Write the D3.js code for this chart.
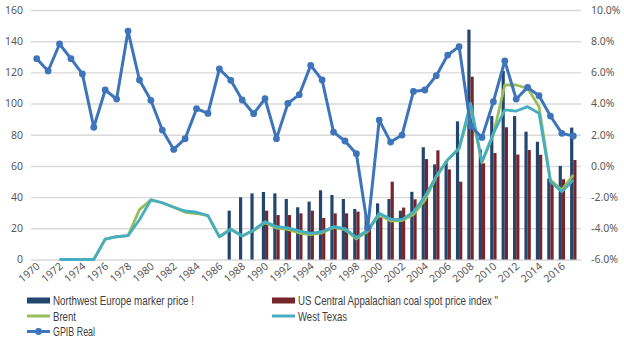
<!DOCTYPE html>
<html>
<head>
<meta charset="utf-8">
<script src="https://cdn.jsdelivr.net/npm/d3@7"></script>
<style>
  html, body { margin: 0; padding: 0; background: #fff; }
  svg { display: block; }
  .tick-label { font-family: "Noto Sans", "Open Sans", sans-serif; font-size: 10.5px; fill: #595959; }
  .legend-label { font-family: "Liberation Sans", "DejaVu Sans", sans-serif; font-size: 13px; fill: #404040; }
</style>
</head>
<body>
<div id="chart"></div>
<script>
const years = d3.range(1970, 2018);

// coal prices, left axis (bars)
const nweMarker = [
  null, null, null, null, null, null, null, null, null, null,
  null, null, null, null, null, null, null, 31.3, 39.9, 42.4,
  43.3, 42.4, 38.8, 33.5, 37.1, 44.4, 41.4, 38.8, 32.4, 28.0,
  36.0, 38.8, 31.3, 43.4, 72.0, 61.0, 63.0, 88.6, 147.4, 70.5,
  92.0, 121.0, 92.0, 82.0, 75.5, 52.0, 60.0, 84.6
];
const cappIndex = [
  null, null, null, null, null, null, null, null, null, null,
  null, null, null, null, null, null, null, null, null, null,
  31.3, 28.5, 28.5, 29.6, 31.3, 26.6, 29.6, 29.6, 30.7, 20.0,
  27.0, 49.9, 33.3, 38.6, 64.4, 70.0, 57.8, 49.9, 117.2, 61.7,
  68.3, 84.8, 67.3, 70.2, 67.2, 49.5, 51.5, 63.8
];

// crude oil, left axis (lines)
const brent = [
  null, null, 0, 0, 0, 0, 13.1, 14.6, 15.3, 32.0,
  38.2, 36.4, 33.5, 30.3, 29.5, 28.1, 14.6, 19.4, 15.1, 18.6,
  23.6, 20.2, 19.3, 17.0, 15.9, 17.1, 20.6, 19.2, 13.2, 18.0,
  28.8, 24.6, 25.0, 28.8, 38.0, 53.0, 64.0, 71.0, 97.0, 62.0,
  80.0, 111.9, 111.9, 109.8, 98.0, 51.0, 44.6, 54.2
];
const westTexas = [
  null, null, 0, 0, 0, 0, 13.1, 14.6, 15.3, 25.5,
  38.2, 36.4, 33.5, 31.1, 30.3, 28.1, 14.6, 19.4, 15.1, 18.9,
  24.3, 21.0, 20.3, 18.3, 16.8, 17.8, 21.0, 19.8, 14.0, 18.9,
  29.6, 25.9, 25.6, 30.5, 40.3, 53.5, 64.0, 71.5, 100.2, 62.7,
  80.9, 95.9, 95.2, 98.0, 93.8, 49.9, 43.5, 51.0
];

// GPIB real, right axis (%)
const gpibReal = [
  6.88, 6.09, 7.82, 6.88, 5.90, 2.48, 4.87, 4.29, 8.65, 5.51,
  4.21, 2.30, 1.06, 1.75, 3.67, 3.37, 6.22, 5.49, 4.23, 3.35,
  4.31, 1.75, 4.01, 4.57, 6.45, 5.51, 2.17, 1.60, 0.78, -3.96,
  2.94, 1.53, 1.98, 4.78, 4.87, 5.79, 7.11, 7.65, 2.56, 1.83,
  4.12, 6.73, 4.29, 5.04, 4.50, 3.20, 2.09, 1.92
];

const leftTicks = [0, 20, 40, 60, 80, 100, 120, 140, 160];
const rightTicks = [-6, -4, -2, 0, 2, 4, 6, 8, 10];
const yearLabels = years.filter(y => y % 2 === 0);

const barSeries = [
  { name: 'Northwest Europe marker price !', values: nweMarker, color: '#23466F', textWidth: 141 },
  { name: 'US Central Appalachian coal spot price index "', values: cappIndex, color: '#76262B', textWidth: 200 }
];
const lineSeries = [
  { name: 'Brent', values: brent, color: '#97BE5A', textWidth: 23 },
  { name: 'West Texas', values: westTexas, color: '#45AEC0', textWidth: 49 }
];
const gpibColor = '#3D74BA';

const width = 624, height = 342;
const plot = { left: 31, right: 579, top: 10, bottom: 259.5 };

const svg = d3.select('#chart').append('svg')
  .attr('width', width)
  .attr('height', height);

const x0 = d3.scaleBand()
  .domain(years)
  .range([plot.left, plot.right])
  .paddingInner(0.44)
  .paddingOuter(0.22);
const x1 = d3.scaleBand()
  .domain([0, 1])
  .range([0, x0.bandwidth()]);
const xc = y => x0(y) + x0.bandwidth() / 2;

const yLeft = d3.scaleLinear().domain([0, 160]).range([plot.bottom, plot.top]);
const yRight = d3.scaleLinear().domain([-6, 10]).range([plot.bottom, plot.top]);

// gridlines
svg.append('g')
  .attr('transform', `translate(${plot.left},0)`)
  .call(d3.axisLeft(yLeft).tickValues(leftTicks).tickSize(-(plot.right + 2 - plot.left)).tickFormat(''))
  .call(g => g.select('.domain').remove())
  .call(g => g.selectAll('line').attr('stroke', '#d9d9d9').attr('stroke-width', 1.4));

// left axis labels
svg.append('g')
  .attr('transform', `translate(${plot.left - 8},0)`)
  .call(d3.axisLeft(yLeft).tickValues(leftTicks).tickSize(0).tickPadding(0))
  .call(g => g.select('.domain').remove())
  .call(g => g.selectAll('text').attr('class', 'tick-label').attr('fill', null));

// right axis labels
svg.append('g')
  .attr('transform', `translate(591,0)`)
  .call(d3.axisRight(yRight).tickValues(rightTicks).tickSize(0).tickPadding(0)
    .tickFormat(d => (d < 0 ? '-' : '') + Math.abs(d).toFixed(1) + '%'))
  .call(g => g.select('.domain').remove())
  .call(g => g.selectAll('text').attr('class', 'tick-label').attr('fill', null));

// year labels, rotated
svg.append('g')
  .selectAll('text')
  .data(yearLabels)
  .join('text')
  .attr('class', 'tick-label')
  .attr('text-anchor', 'end')
  .attr('transform', d => `translate(${xc(d) + 4},${plot.bottom + 8}) rotate(-40)`)
  .text(d => d);

// bars
barSeries.forEach((s, i) => {
  svg.append('g')
    .selectAll('rect')
    .data(years.map((yr, k) => ({ yr, v: s.values[k] })).filter(d => d.v !== null))
    .join('rect')
    .attr('x', d => x0(d.yr) + x1(i))
    .attr('width', x1.bandwidth())
    .attr('y', d => yLeft(d.v))
    .attr('height', d => yLeft(0) - yLeft(d.v))
    .attr('fill', s.color);
});

// oil price lines
lineSeries.forEach(s => {
  const line = d3.line()
    .defined(d => d.v !== null)
    .x(d => xc(d.yr))
    .y(d => yLeft(d.v));
  svg.append('path')
    .datum(years.map((yr, k) => ({ yr, v: s.values[k] })))
    .attr('fill', 'none')
    .attr('stroke', s.color)
    .attr('stroke-width', 2.8)
    .attr('stroke-linejoin', 'round')
    .attr('d', line);
});

// GPIB line with markers
const gpibData = years.map((yr, k) => ({ yr, v: gpibReal[k] }));
svg.append('path')
  .datum(gpibData)
  .attr('fill', 'none')
  .attr('stroke', gpibColor)
  .attr('stroke-width', 3)
  .attr('stroke-linejoin', 'round')
  .attr('d', d3.line().x(d => xc(d.yr)).y(d => yRight(d.v)));
svg.append('g')
  .selectAll('circle')
  .data(gpibData)
  .join('circle')
  .attr('cx', d => xc(d.yr))
  .attr('cy', d => yRight(d.v))
  .attr('r', 3.4)
  .attr('fill', gpibColor);

// legend
const legend = svg.append('g');
const rowY = [300.5, 316, 331.5];
const colX = [27, 272];

function legendText(g, label, w) {
  g.append('text')
    .attr('class', 'legend-label')
    .attr('x', 26)
    .attr('dy', '0.36em')
    .attr('textLength', w)
    .attr('lengthAdjust', 'spacingAndGlyphs')
    .text(label);
}

barSeries.forEach((s, i) => {
  const g = legend.append('g').attr('transform', `translate(${colX[i]},${rowY[0]})`);
  g.append('rect').attr('x', 0).attr('y', -3).attr('width', 23).attr('height', 6).attr('fill', s.color);
  legendText(g, s.name, s.textWidth);
});
lineSeries.forEach((s, i) => {
  const g = legend.append('g').attr('transform', `translate(${colX[i]},${rowY[1]})`);
  g.append('line').attr('x1', 0).attr('x2', 23).attr('stroke', s.color).attr('stroke-width', 3);
  legendText(g, s.name, s.textWidth);
});
{
  const g = legend.append('g').attr('transform', `translate(${colX[0]},${rowY[2]})`);
  g.append('line').attr('x1', 0).attr('x2', 23).attr('stroke', gpibColor).attr('stroke-width', 3);
  g.append('circle').attr('cx', 11.5).attr('r', 3.4).attr('fill', gpibColor);
  legendText(g, 'GPIB Real', 42);
}
</script>
</body>
</html>
